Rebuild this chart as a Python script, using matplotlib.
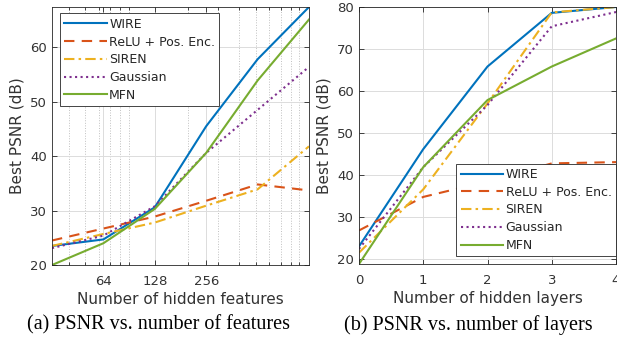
# -*- coding: utf-8 -*-
"""
PSNR vs. number of hidden features / hidden layers
"""

import numpy as np
import matplotlib.pyplot as plt
from matplotlib.ticker import LogLocator, NullFormatter, FixedLocator, FixedFormatter

#%% data

labels = ['WIRE', 'ReLU + Pos. Enc.', 'SIREN', 'Gaussian', 'MFN']

# (a) number of hidden features
features = [32, 64, 128, 256, 512, 1024]
feat_wire = [23.5, 24.7, 30.6, 45.5, 57.8, 67.4]
feat_relu = [24.5, 26.7, 28.9, 31.8, 34.8, 33.7]
feat_siren = [23.5, 25.7, 27.8, 30.9, 33.9, 41.8]
feat_gauss = [23.1, 25.4, 30.8, 40.6, 48.5, 56.4]
feat_mfn = [20.0, 24.0, 30.3, 40.6, 53.9, 65.1]
feat_ticks = [64, 128, 256]

# (b) number of hidden layers
layers = [0, 1, 2, 3, 4]
lay_wire = [22.9, 46.1, 65.8, 78.6, 80.0]
lay_relu = [26.7, 34.7, 38.4, 42.7, 43.0]
lay_siren = [21.4, 36.5, 57.0, 78.7, 80.0]
lay_gauss = [22.3, 41.8, 56.6, 75.4, 78.8]
lay_mfn = [18.7, 41.8, 57.8, 65.8, 72.5]

#%% styling

colors = ['#0072BD', '#D95319', '#EDB120', '#7E2F8E', '#77AC30']
styles = ['-', (0, (5, 3.5)), (0, (5, 2, 1.2, 2)), ':', '-']
txt = '#262626'

plt.rcParams['font.family'] = 'DejaVu Sans'
plt.rcParams['axes.edgecolor'] = txt
plt.rcParams['xtick.color'] = txt
plt.rcParams['ytick.color'] = txt

fig = plt.figure(figsize=(6.17, 3.39), dpi=100)
W, H = 617., 339.
ax1 = fig.add_axes([52/W, 1-265/H, (309-52)/W, (265-7)/H])
ax2 = fig.add_axes([359/W, 1-264/H, (616-359)/W, (264-7)/H])


def style_axes(ax):
    ax.tick_params(which='both', direction='in', top=True, right=True,
                   labelsize=9.5, labelcolor='#333333', width=0.6)
    ax.tick_params(which='major', length=3.5)
    ax.tick_params(which='minor', length=2)
    ax.tick_params(axis='x', which='major', pad=7)
    ax.grid(True, which='major', color='#dcdcdc', linewidth=0.7)
    for s in ax.spines.values():
        s.set_linewidth(0.6)
    ax.set_axisbelow(True)


def style_legend(leg):
    leg.get_frame().set_linewidth(0.6)
    for t in leg.get_texts():
        t.set_color(txt)


leg_kw = dict(fontsize=9, handlelength=3.4, handletextpad=0.2, borderpad=0.35,
              labelspacing=0.38, fancybox=False, framealpha=1,
              edgecolor='#262626', borderaxespad=0)

#%% (a)

series_a = [feat_wire, feat_relu, feat_siren, feat_gauss, feat_mfn]
for y, c, ls, lab in zip(series_a, colors, styles, labels):
    ax1.plot(features, y, color=c, linestyle=ls, linewidth=1.5, label=lab)

ax1.set_xscale('log')
ax1.set_xlim(32, 1024)
ax1.set_ylim(20, 67.4)
ax1.xaxis.set_major_locator(FixedLocator(feat_ticks))
ax1.xaxis.set_major_formatter(FixedFormatter([str(t) for t in feat_ticks]))
ax1.xaxis.set_minor_locator(LogLocator(base=10, subs=np.arange(2, 10)))
ax1.xaxis.set_minor_formatter(NullFormatter())
ax1.set_yticks([20, 30, 40, 50, 60])
style_axes(ax1)
ax1.grid(True, which='minor', axis='x', color='#c0c0c0', linestyle=':', linewidth=0.7)
ax1.set_xlabel('Number of hidden features', fontsize=11, color='#333333', labelpad=3)
ax1.set_ylabel('Best PSNR (dB)', fontsize=11, color='#333333', labelpad=4)
leg1 = ax1.legend(loc='upper left', bbox_to_anchor=(0.03, 0.975), **leg_kw)
style_legend(leg1)

#%% (b)

series_b = [lay_wire, lay_relu, lay_siren, lay_gauss, lay_mfn]
for y, c, ls, lab in zip(series_b, colors, styles, labels):
    ax2.plot(layers, y, color=c, linestyle=ls, linewidth=1.5, label=lab)

ax2.set_xlim(0, 4)
ax2.set_ylim(18.7, 80)
ax2.set_xticks(layers)
ax2.set_yticks([20, 30, 40, 50, 60, 70, 80])
style_axes(ax2)
ax2.set_xlabel('Number of hidden layers', fontsize=11, color='#333333', labelpad=3)
ax2.set_ylabel('Best PSNR (dB)', fontsize=11, color='#333333', labelpad=4)
leg2 = ax2.legend(loc='lower right', bbox_to_anchor=(1.0, 0.03), **leg_kw)
style_legend(leg2)

#%% captions

fig.text(159/W, 1-325/H, '(a) PSNR vs. number of features', ha='center', va='center',
         fontsize=14.5, family='Liberation Serif', color='black')
fig.text(468/W, 1-325/H, '(b) PSNR vs. number of layers', ha='center', va='center',
         fontsize=14.5, family='Liberation Serif', color='black')

fig.savefig('out.png', dpi=100)
